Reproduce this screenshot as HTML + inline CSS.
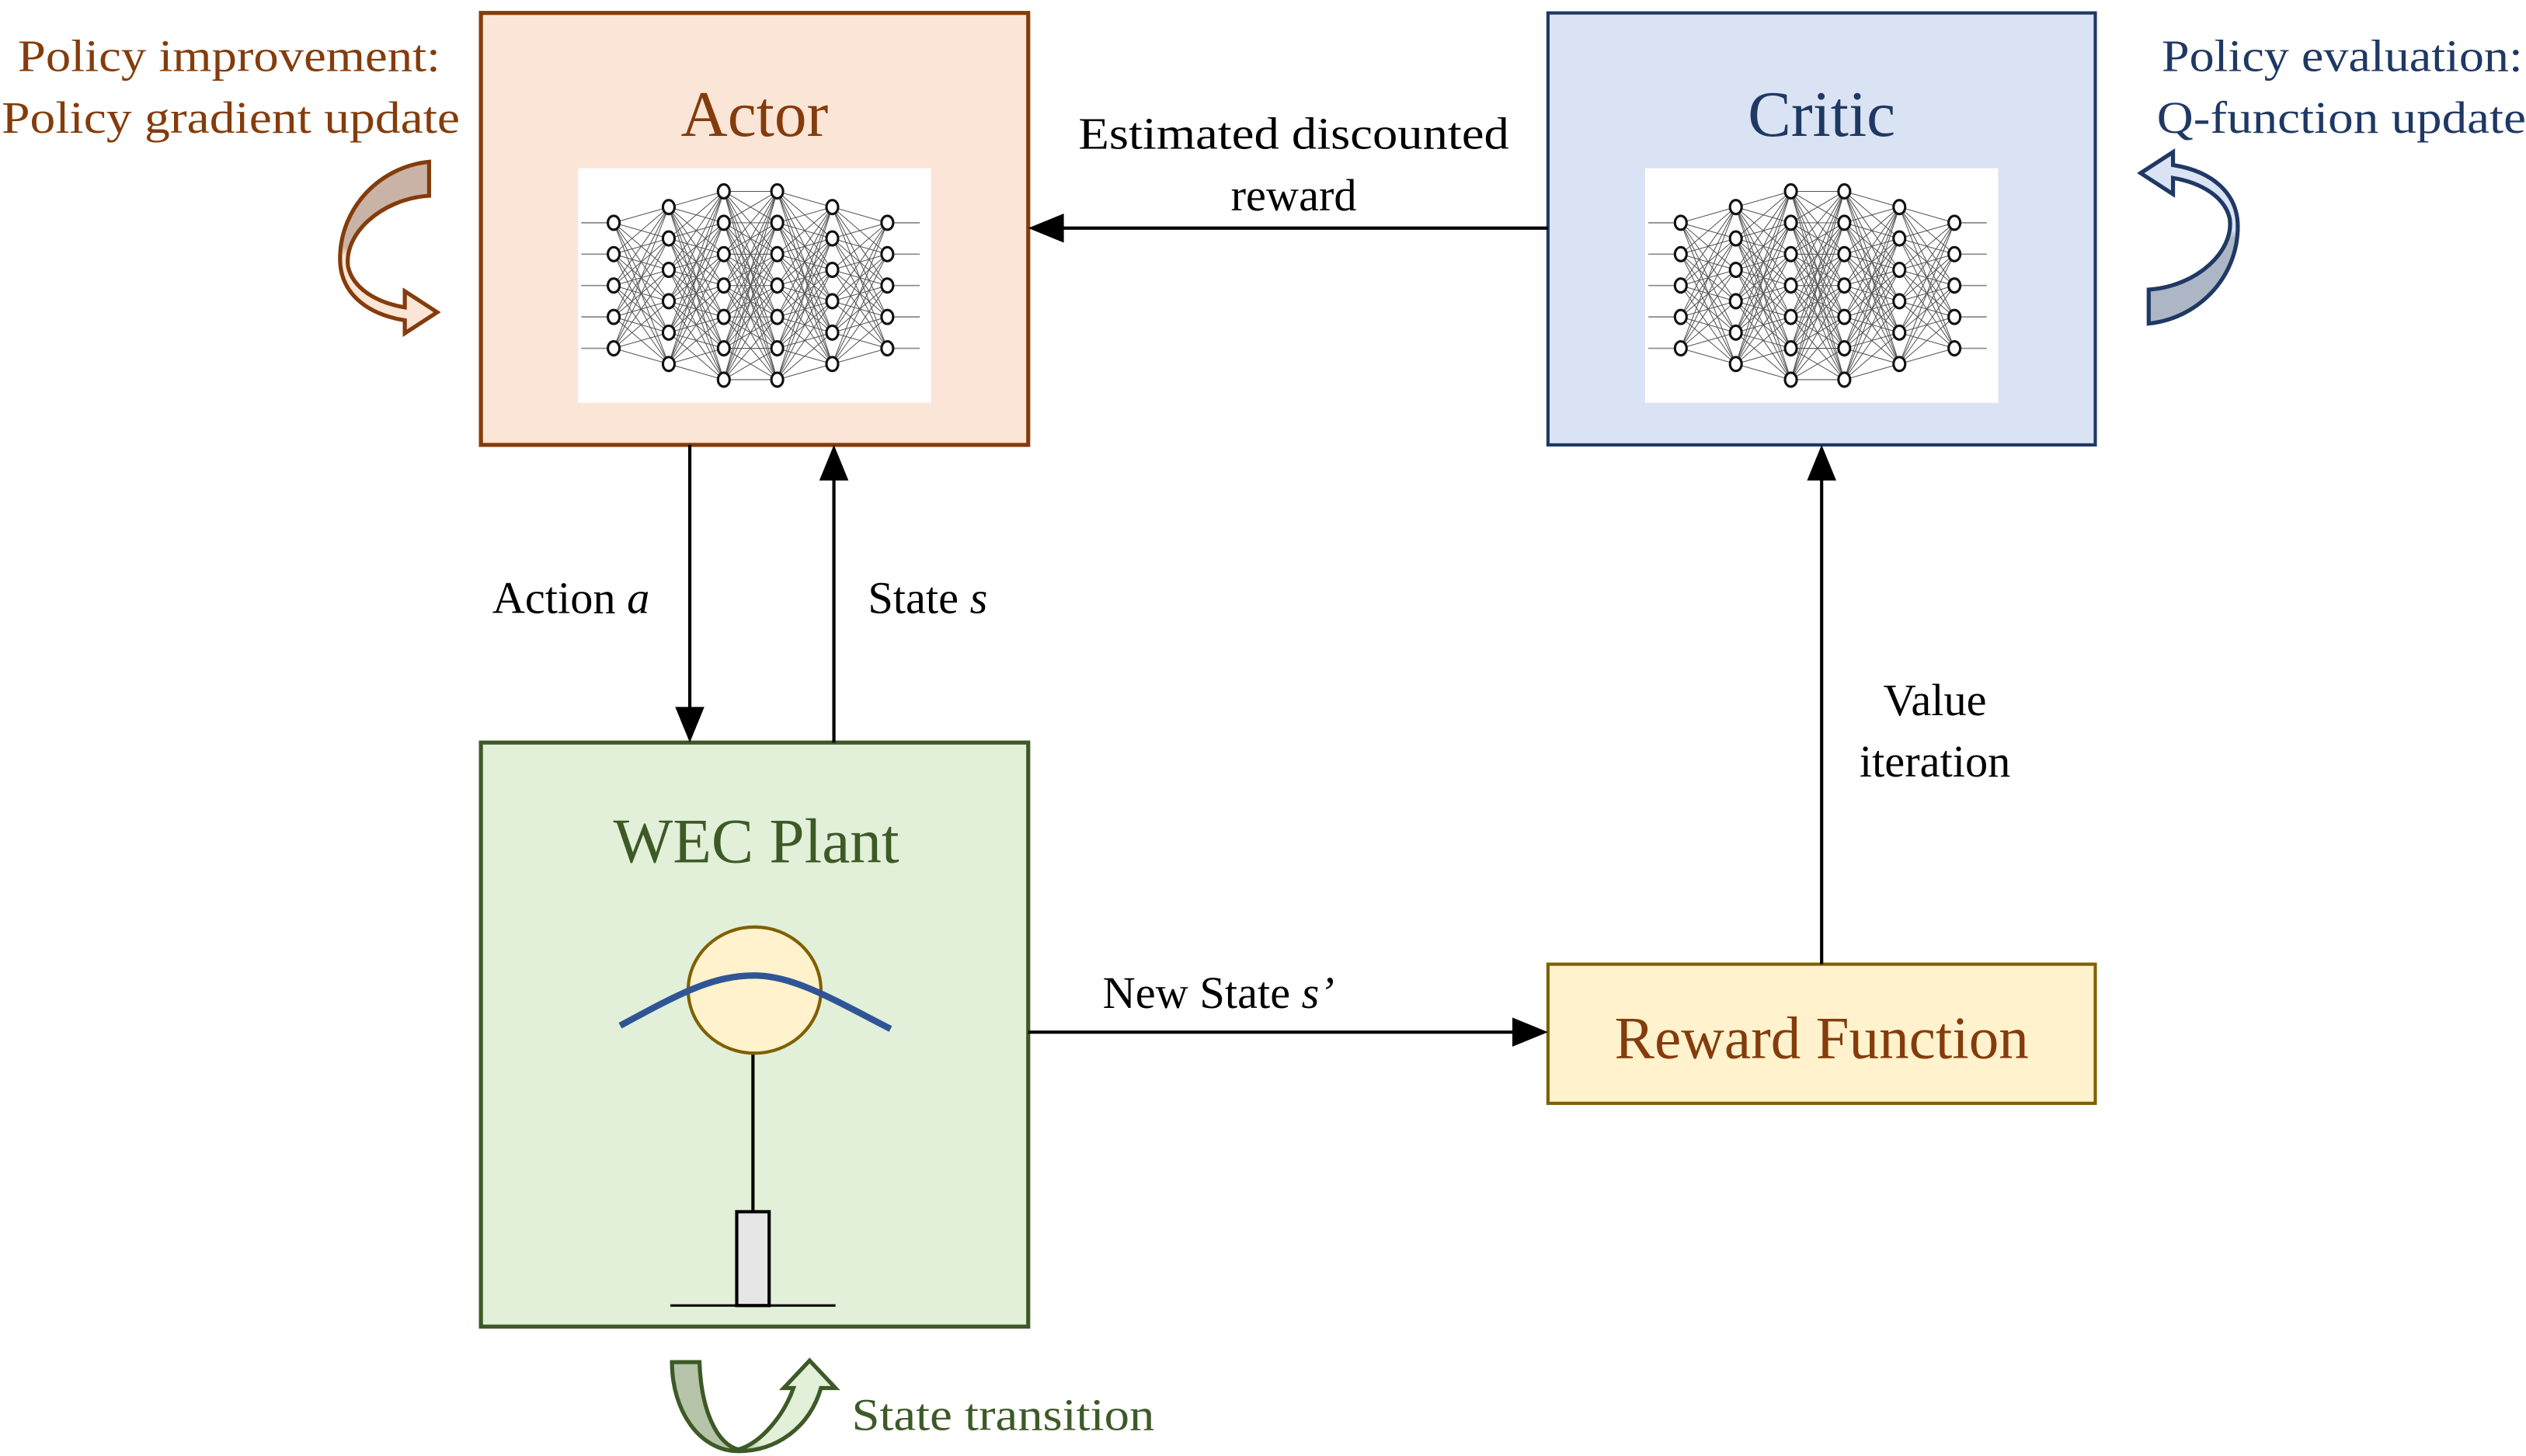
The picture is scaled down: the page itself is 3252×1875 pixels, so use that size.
<!DOCTYPE html>
<html><head><meta charset="utf-8"><style>html,body{margin:0;padding:0;background:#fff}svg{display:block}svg text{font-family:"Liberation Serif","Times New Roman",Times,serif}</style></head>
<body>
<svg id="s" width="3252" height="1875" viewBox="0 0 1560 900" preserveAspectRatio="none" xmlns="http://www.w3.org/2000/svg" font-family="Liberation Serif, Times New Roman, serif">
<defs>
<linearGradient id="ga" x1="0" y1="0" x2="0" y2="1"><stop offset="0" stop-color="#c9b3a6"/><stop offset="0.5" stop-color="#c9b3a6"/><stop offset="0.55" stop-color="#fbe5d6"/><stop offset="1" stop-color="#fbe5d6"/></linearGradient>
<linearGradient id="gc" x1="0" y1="0" x2="0" y2="1"><stop offset="0" stop-color="#adb6c4"/><stop offset="0.5" stop-color="#adb6c4"/><stop offset="0.55" stop-color="#dae3f3"/><stop offset="1" stop-color="#dae3f3"/></linearGradient>
<linearGradient id="gw" x1="0" y1="0" x2="1" y2="0"><stop offset="0" stop-color="#b5c4a8"/><stop offset="0.45" stop-color="#b5c4a8"/><stop offset="0.55" stop-color="#e2efd9"/><stop offset="1" stop-color="#e2efd9"/></linearGradient>
</defs>

<rect x="297" y="8" width="338" height="267" fill="#fbe5d6" stroke="#843c0c" stroke-width="2.5"/>
<rect x="956" y="8" width="338" height="267" fill="#dae3f3" stroke="#1f3864" stroke-width="2"/>
<rect x="297" y="459" width="338" height="361" fill="#e2efd9" stroke="#3d5a26" stroke-width="2.5"/>
<rect x="956" y="596" width="338" height="86" fill="#fff2cc" stroke="#7f6000" stroke-width="2"/>

<rect x="357" y="104" width="218" height="145" fill="#fff"/>
<rect x="1016" y="104" width="218" height="145" fill="#fff"/>
<g id="nn1"></g><g id="nn2"></g>

<text x="466" y="84" font-size="40" fill="#843c0c" text-anchor="middle">Actor</text>
<text x="1125" y="84" font-size="40" fill="#1f3864" text-anchor="middle">Critic</text>
<text x="467" y="533" font-size="39" fill="#3d5a26" text-anchor="middle">WEC Plant</text>
<text x="1125" y="654" font-size="37" fill="#843c0c" text-anchor="middle">Reward Function</text>

<text x="11" y="44" font-size="28" fill="#843c0c" textLength="261" lengthAdjust="spacingAndGlyphs">Policy improvement:</text>
<text x="1" y="82" font-size="28" fill="#843c0c" textLength="283" lengthAdjust="spacingAndGlyphs">Policy gradient update</text>
<text x="1335" y="44" font-size="28" fill="#1f3864" textLength="223" lengthAdjust="spacingAndGlyphs">Policy evaluation:</text>
<text x="1332" y="82" font-size="28" fill="#1f3864" textLength="228" lengthAdjust="spacingAndGlyphs">Q-function update</text>

<g stroke="#000" stroke-width="2" fill="none">
<line x1="956" y1="141" x2="655" y2="141"/>
<line x1="426" y1="275" x2="426" y2="440"/>
<line x1="515" y1="459" x2="515" y2="295"/>
<line x1="635" y1="638" x2="936" y2="638"/>
<line x1="1125" y1="596" x2="1125" y2="295"/>
</g>
<g fill="#000">
<polygon points="635,141 657,132 657,150"/>
<polygon points="426,459 417,437 435,437"/>
<polygon points="515,275 506,297 524,297"/>
<polygon points="956,638 934,629 934,647"/>
<polygon points="1125,275 1116,297 1134,297"/>
</g>
<g font-size="28" fill="#000">
<text x="666" y="92" textLength="266" lengthAdjust="spacingAndGlyphs">Estimated discounted</text>
<text x="799" y="130" text-anchor="middle">reward</text>
<text x="304" y="379">Action <tspan font-style="italic">a</tspan></text>
<text x="536" y="379">State <tspan font-style="italic">s</tspan></text>
<text x="1195" y="442" text-anchor="middle">Value</text>
<text x="1195" y="480" text-anchor="middle">iteration</text>
<text x="681" y="623">New State <tspan font-style="italic">s’</tspan></text>
</g>

<line x1="414" y1="807" x2="516" y2="807" stroke="#000" stroke-width="1.5"/>
<line x1="465" y1="651" x2="465" y2="749" stroke="#000" stroke-width="2"/>
<rect x="455" y="749" width="20" height="58" fill="#e7e6e6" stroke="#000" stroke-width="2"/>
<ellipse cx="466" cy="612" rx="41" ry="39" fill="#fff2cc" stroke="#7f6000" stroke-width="2"/>
<path d="M383,634 C420,614 440,603 466,603 C490,603 515,618 550,636" fill="none" stroke="#2f5597" stroke-width="4"/>

<path d="M265,100 L265,121 C235,123 212,145 215,165 C218,178 232,187 250,190 L250,180 L270,193 L250,206 L250,198 C225,194 210,180 210,160 C210,128 235,103 265,100 Z" fill="url(#ga)" stroke="#843c0c" stroke-width="2.5"/>
<path d="M265,100 L265,121 C235,123 212,145 215,165 C218,178 232,187 250,190 L250,180 L270,193 L250,206 L250,198 C225,194 210,180 210,160 C210,128 235,103 265,100 Z" transform="matrix(-1,0,0,-1,1592,300)" fill="url(#gc)" stroke="#1f3864" stroke-width="2.5"/>
<path d="M415,842 L432,842 C433,872 443,893 456,896 C470,892 484,875 490,858 L484,858 L500,841 L516,858 L507,858 C500,882 480,897 456,897 C432,897 415,872 415,842 Z" fill="url(#gw)" stroke="#3d5a26" stroke-width="2.5"/>
<text x="526" y="884" font-size="28" fill="#3d5a26" textLength="187" lengthAdjust="spacingAndGlyphs">State transition</text>
</svg>
<script>
(function(){
function build(id,ox){
 var g=document.getElementById(id);
 var xs=[379,413,447,480,514,548].map(function(x){return x-357+ox;});
 var cnt=[5,6,7,7,6,5];
 var ys=cnt.map(function(n){var a=[];var sp=19.4;var c=176.5;for(var i=0;i<n;i++)a.push(c+(i-(n-1)/2)*sp);return a;});
 var h='';
 for(var l=0;l<5;l++)for(var i=0;i<ys[l].length;i++)for(var j=0;j<ys[l+1].length;j++)
  h+='<line x1="'+xs[l]+'" y1="'+ys[l][i]+'" x2="'+xs[l+1]+'" y2="'+ys[l+1][j]+'" stroke="#555" stroke-width="0.5"/>';
 ys[0].forEach(function(y){h+='<line x1="'+(xs[0]-20)+'" y1="'+y+'" x2="'+xs[0]+'" y2="'+y+'" stroke="#888" stroke-width="0.8"/>';});
 ys[5].forEach(function(y){h+='<line x1="'+xs[5]+'" y1="'+y+'" x2="'+(xs[5]+20)+'" y2="'+y+'" stroke="#888" stroke-width="0.8"/>';});
 for(var l=0;l<6;l++)ys[l].forEach(function(y){h+='<ellipse cx="'+xs[l]+'" cy="'+y+'" rx="3.6" ry="4.3" fill="#fff" stroke="#111" stroke-width="1.5"/>';});
 g.innerHTML=h;
}
build('nn1',357);build('nn2',1016);
})();
</script>
</body></html>
